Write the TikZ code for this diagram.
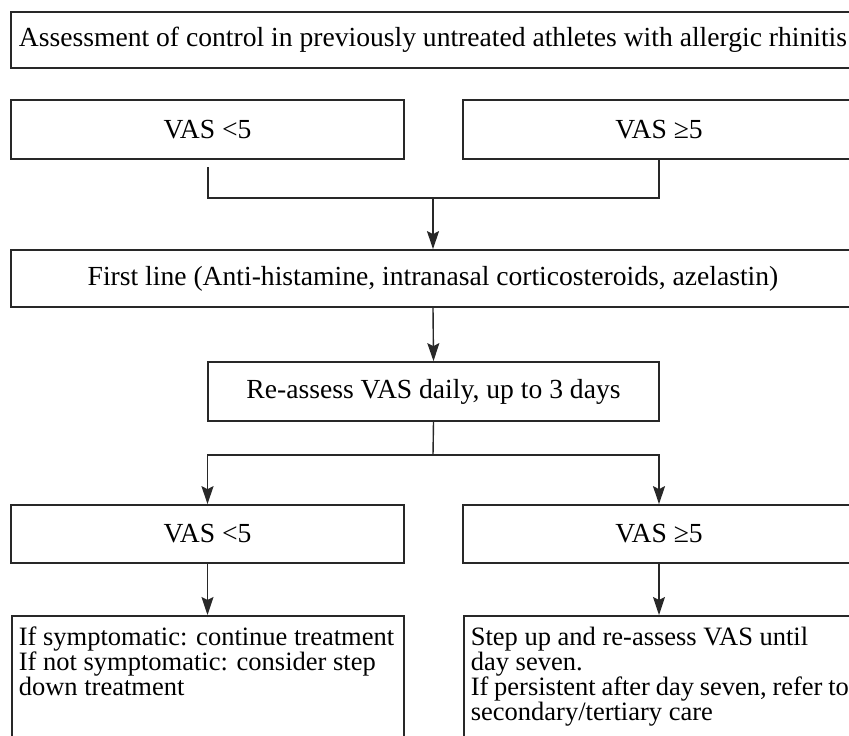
\documentclass[tikz,border=0pt]{standalone}
\usepackage{fontspec}
\setmainfont{Liberation Serif}
\usepackage{tikz}
\usetikzlibrary{arrows.meta}
\tikzstyle{chart} = [x = 1pt, y = -1pt]
\definecolor{lineColor}{RGB}{40,40,40}
\newcommand{\stageFont}{\fontsize{27.6}{28}\selectfont}
\newcommand{\adviceFont}{\fontsize{26.5}{25.2}\selectfont}
\tikzstyle{stageStyle} = [draw=lineColor, line width=1.7pt, inner sep=0pt, font=\stageFont]
\tikzstyle{adviceStyle} = [draw=lineColor, line width=1.7pt, anchor=north west, inner xsep=7pt, inner ysep=11pt, font=\adviceFont]
\tikzstyle{linkLine} = [draw=lineColor, line width=1.4pt]
\tikzstyle{linkArrow} = [linkLine, -{Stealth[length=18pt, width=12pt, inset=3pt]}]
\newcommand{\stageBox}[6]{\node [stageStyle, minimum width=#4pt, minimum height=#5pt] (#1) at (#2,#3) {#6};}
\newcommand{\adviceBox}[5]{\node [adviceStyle] (#1) at (#2,#3) {\parbox[t][125pt][t]{#4pt}{\raggedright #5}};}

\begin{document}
\begin{tikzpicture}[chart]
  \useasboundingbox (0,0) rectangle (849,736);
  \clip (0,0) rectangle (849,736);

  \stageBox{assessBox}{433}{40}{844}{56}{Assessment of control in previously untreated athletes with allergic rhinitis}
  \stageBox{lowFirst}{207.5}{129.5}{393}{59}{VAS <5}
  \stageBox{highFirst}{659}{129.5}{392}{59}{VAS ≥5}
  \stageBox{firstLine}{433}{278.5}{844}{57}{First line (Anti-histamine, intranasal corticosteroids, azelastin)}
  \stageBox{reassessBox}{433.5}{391.5}{451}{59}{Re-assess VAS daily, up to 3 days}
  \stageBox{lowSecond}{207.5}{534}{393}{58}{VAS <5}
  \stageBox{highSecond}{659}{534}{392}{58}{VAS ≥5}
  \adviceBox{lowAdvice}{11}{615}{378}{If symptomatic: continue treatment\\ If not symptomatic: consider step\\ down treatment}
  \adviceBox{highAdvice}{463}{615}{378}{Step up and re-assess VAS until\\ day seven.\\ If~persistent~after~day~seven,~refer~to\\ secondary/tertiary care}

  % joining the two first scores
  \coordinate (lowGap) at (208,167);
  \coordinate (joinPoint) at (433,198);
  \draw [linkLine] (lowGap) |- (joinPoint) -| (highFirst.south);
  \draw [linkArrow] (joinPoint) -- (firstLine.north);
  \draw [linkArrow] (firstLine.south) -- (reassessBox.north);

  % splitting after re-assessment
  \coordinate (splitPoint) at (433,455);
  \draw [linkLine] (reassessBox.south) -- (splitPoint);
  \draw [linkArrow] (splitPoint) -| (lowSecond.north);
  \draw [linkArrow] (splitPoint) -| (highSecond.north);
  \draw [linkArrow] (lowSecond.south) -- (lowSecond.south |- lowAdvice.north);
  \draw [linkArrow] (highSecond.south) -- (highSecond.south |- highAdvice.north);
\end{tikzpicture}
\end{document}
